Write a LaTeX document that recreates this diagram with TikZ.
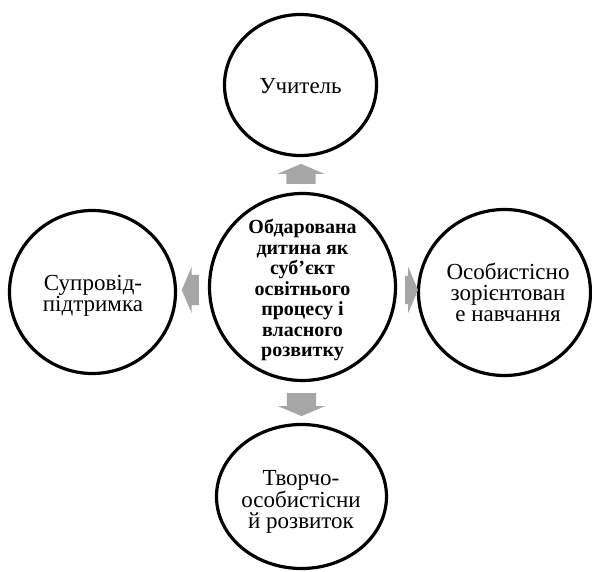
\documentclass[tikz,border=0pt]{standalone}
\usepackage{fontspec}
\setmainfont{Liberation Serif}
\usetikzlibrary{shapes.geometric,shapes.arrows}
\definecolor{grisfleche}{RGB}{166,166,166}
\tikzset{
  bulle/.style={ellipse, draw, line width=3.2pt, inner sep=0pt},
  texte/.style={align=center, inner sep=0pt, font=\fontsize{23}{21}\selectfont},
  fleche/.style={single arrow, fill=grisfleche, draw=none, inner xsep=0pt, inner ysep=14.5pt,
    single arrow tip angle=134, single arrow head extend=9pt}
}
\begin{document}
\begin{tikzpicture}[x=1pt,y=-1pt]
\useasboundingbox (0,0) rectangle (592,572);
\node [bulle, minimum width=186pt, minimum height=187pt] (centre) at (302.5,287) {};
\node [bulle, minimum width=152pt, minimum height=141pt] (vchytel) at (300.5,85) {};
\node [bulle, minimum width=166pt, minimum height=163pt] (suprovid) at (92.5,292) {};
\node [bulle, minimum width=172pt, minimum height=166pt] (navch) at (504.5,292.5) {};
\node [bulle, minimum width=170pt, minimum height=144pt] (tvorcho) at (301.5,496.5) {};
\node [texte, font=\bfseries\fontsize{20}{20.5}\selectfont] (t-centre) at (302.5,290) {Обдарована\\дитина як\\суб’єкт\\освітнього\\процесу і\\власного\\розвитку};
\node [texte] (t-vchytel) at (300.5,86) {Учитель};
\node [texte] (t-suprovid) at (93,296) {Супровід-\\підтримка};
\node [texte] (t-navch) at (508,292) {Особистісно\\зорієнтован\\е навчання};
\node [texte] (t-tvorcho) at (301,502) {Творчо-\\особистісни\\й розвиток};
\node [fleche, rotate=90, minimum height=20pt] (f-haut) at (301,177) {};
\node [fleche, rotate=-90, minimum height=23pt] (f-bas) at (301.5,401.5) {};
\node [fleche, rotate=180, minimum height=17pt, inner ysep=15pt, single arrow head extend=8pt] (f-gauche) at (193.5,290) {};
\node [fleche, minimum height=13pt, inner ysep=14pt] (f-droite) at (408.5,290) {};
\end{tikzpicture}
\end{document}
